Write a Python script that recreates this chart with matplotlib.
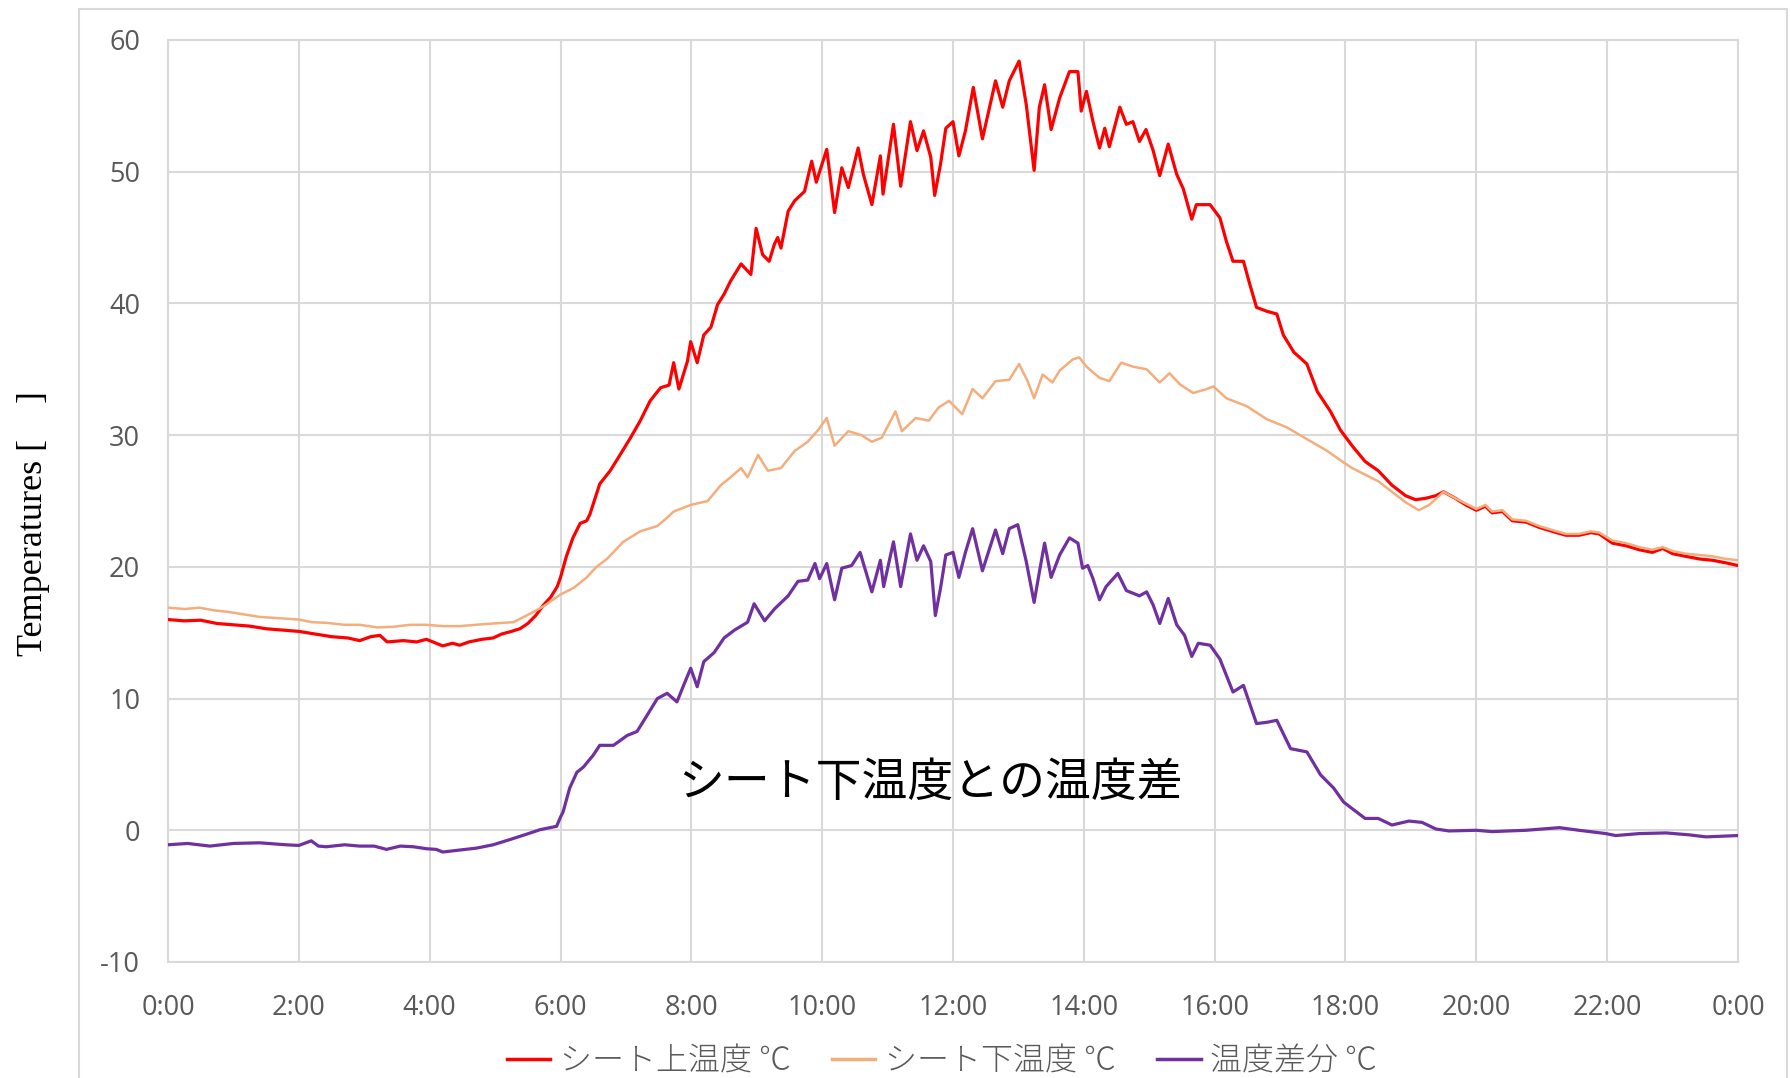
import matplotlib
matplotlib.use("Agg")
import matplotlib.pyplot as plt
from matplotlib.patches import Rectangle

plt.rcParams["axes.unicode_minus"] = False

# ---------------- data (hours, °C) ----------------
upper_time = [0.00, 0.25, 0.5, 0.75, 1.0, 1.25, 1.5, 1.75, 2.0, 2.25, 2.5, 2.75, 2.93, 3.1, 3.24, 3.35,
              3.6, 3.8, 3.95, 4.1, 4.2, 4.35, 4.46, 4.6, 4.8, 4.97, 5.1, 5.25, 5.38, 5.5, 5.62, 5.74,
              5.85, 5.95, 6.0, 6.09, 6.19, 6.3, 6.4, 6.45, 6.6, 6.76, 6.91, 7.07, 7.22, 7.37, 7.53,
              7.66, 7.73, 7.81, 7.94, 7.99, 8.09, 8.19, 8.3, 8.4, 8.5, 8.6, 8.76, 8.91, 8.99, 9.09,
              9.19, 9.27, 9.32, 9.37, 9.48, 9.58, 9.73, 9.84, 9.91, 10.07, 10.19, 10.3, 10.4, 10.55,
              10.63, 10.76, 10.89, 10.93, 11.09, 11.2, 11.35, 11.45, 11.55, 11.66, 11.72, 11.81,
              11.89, 12.0, 12.09, 12.19, 12.31, 12.45, 12.65, 12.76, 12.86, 13.01, 13.12, 13.24,
              13.32, 13.4, 13.5, 13.63, 13.78, 13.91, 13.96, 14.04, 14.14, 14.24, 14.32, 14.39,
              14.55, 14.65, 14.75, 14.85, 14.95, 15.06, 15.16, 15.29, 15.42, 15.52, 15.65, 15.72,
              15.93, 16.08, 16.18, 16.28, 16.44, 16.54, 16.64, 16.8, 16.95, 17.05, 17.21, 17.41,
              17.57, 17.77, 17.92, 18.1, 18.3, 18.5, 18.71, 18.92, 19.07, 19.22, 19.38, 19.5,
              19.68, 19.84, 20.0, 20.14, 20.24, 20.4, 20.55, 20.76, 20.96, 21.16, 21.37, 21.57,
              21.75, 21.88, 22.08, 22.29, 22.49, 22.69, 22.85, 23.0, 23.2, 23.41, 23.61, 23.82, 24.0]
upper_temp = [16.0, 15.9, 15.95, 15.7, 15.6, 15.5, 15.3, 15.2, 15.1, 14.9, 14.7, 14.6, 14.4, 14.7, 14.8, 14.3,
              14.4, 14.3, 14.5, 14.2, 14.0, 14.2, 14.05, 14.3, 14.5, 14.6, 14.9, 15.1, 15.3, 15.7, 16.3, 17.1,
              17.7, 18.5, 19.2, 20.8, 22.2, 23.3, 23.5, 24.0, 26.3, 27.3, 28.5, 29.8, 31.1, 32.6, 33.6,
              33.8, 35.5, 33.5, 35.6, 37.1, 35.5, 37.6, 38.2, 39.9, 40.7, 41.7, 43.0, 42.2, 45.7, 43.7,
              43.2, 44.5, 45.0, 44.2, 47.0, 47.8, 48.5, 50.8, 49.2, 51.7, 46.9, 50.3, 48.8, 51.8,
              49.8, 47.5, 51.2, 48.3, 53.6, 48.9, 53.8, 51.6, 53.1, 51.1, 48.2, 50.6,
              53.3, 53.8, 51.2, 53.1, 56.4, 52.5, 56.9, 54.9, 56.9, 58.4, 55.1, 50.1,
              54.9, 56.6, 53.2, 55.6, 57.6, 57.6, 54.6, 56.1, 53.8, 51.8, 53.3, 51.9,
              54.9, 53.6, 53.8, 52.3, 53.2, 51.6, 49.7, 52.1, 49.8, 48.7, 46.4, 47.5,
              47.5, 46.5, 44.7, 43.2, 43.2, 41.4, 39.7, 39.4, 39.2, 37.6, 36.3, 35.4,
              33.3, 31.8, 30.4, 29.2, 28.0, 27.3, 26.2, 25.4, 25.1, 25.2, 25.4, 25.7,
              25.2, 24.7, 24.3, 24.6, 24.1, 24.2, 23.5, 23.4, 23.0, 22.7, 22.4, 22.4,
              22.6, 22.5, 21.8, 21.6, 21.3, 21.1, 21.4, 21.0, 20.8, 20.6, 20.5, 20.3, 20.1]

lower_time = [0.0, 0.25, 0.48, 0.7, 0.89, 1.15, 1.4, 1.7, 2.0, 2.2, 2.42, 2.7, 2.93, 3.2, 3.44, 3.7,
              3.95, 4.2, 4.46, 4.7, 4.97, 5.28, 5.48, 5.74, 6.0, 6.2, 6.4, 6.55, 6.71, 6.96, 7.22,
              7.48, 7.6, 7.73, 7.99, 8.25, 8.45, 8.6, 8.76, 8.86, 9.02, 9.17, 9.37, 9.58, 9.78,
              9.94, 10.07, 10.19, 10.4, 10.6, 10.76, 10.91, 11.12, 11.22, 11.43, 11.63, 11.78,
              11.94, 12.14, 12.3, 12.45, 12.65, 12.86, 13.01, 13.14, 13.24, 13.37, 13.52, 13.63,
              13.83, 13.93, 14.04, 14.24, 14.39, 14.57, 14.75, 14.96, 15.16, 15.31, 15.47, 15.67,
              15.88, 15.98, 16.18, 16.49, 16.8, 17.1, 17.41, 17.72, 17.95, 18.1, 18.3, 18.5, 18.71,
              18.92, 19.12, 19.28, 19.5, 19.68, 19.84, 20.0, 20.14, 20.24, 20.4, 20.55, 20.76,
              20.96, 21.16, 21.37, 21.57, 21.75, 21.88, 22.08, 22.29, 22.49, 22.69, 22.85, 23.0,
              23.2, 23.41, 23.61, 23.82, 24.0]
lower_temp = [16.9, 16.8, 16.9, 16.7, 16.6, 16.4, 16.2, 16.1, 16.0, 15.8, 15.75, 15.6, 15.6, 15.4, 15.45, 15.6,
              15.6, 15.5, 15.5, 15.6, 15.7, 15.8, 16.3, 17.0, 17.9, 18.4, 19.2, 20.0, 20.6, 21.9, 22.7,
              23.1, 23.6, 24.2, 24.7, 25.0, 26.2, 26.8, 27.5, 26.8, 28.5, 27.3, 27.5, 28.8, 29.5,
              30.4, 31.3, 29.2, 30.3, 30.0, 29.5, 29.8, 31.8, 30.3, 31.3, 31.1, 32.1,
              32.6, 31.6, 33.5, 32.8, 34.1, 34.2, 35.4, 34.1, 32.8, 34.6, 34.0, 34.9,
              35.75, 35.9, 35.2, 34.35, 34.1, 35.5, 35.2, 35.0, 34.0, 34.7, 33.85, 33.2,
              33.5, 33.7, 32.8, 32.2, 31.2, 30.6, 29.7, 28.8, 28.0, 27.5, 27.0, 26.5, 25.7,
              24.9, 24.3, 24.7, 25.7, 25.2, 24.8, 24.4, 24.7, 24.2, 24.3, 23.6, 23.5,
              23.1, 22.8, 22.5, 22.5, 22.7, 22.6, 22.0, 21.8, 21.5, 21.3, 21.5, 21.2,
              21.0, 20.9, 20.8, 20.6, 20.5]

diff_time = [0.0, 0.3, 0.64, 1.0, 1.4, 1.8, 2.0, 2.19, 2.3, 2.42, 2.7, 2.93, 3.15, 3.34, 3.55, 3.75,
             3.95, 4.1, 4.2, 4.46, 4.72, 4.97, 5.23, 5.48, 5.69, 5.94, 6.0, 6.04, 6.14, 6.25, 6.35,
             6.5, 6.6, 6.81, 7.02, 7.17, 7.32, 7.48, 7.63, 7.78, 7.89, 7.99, 8.09, 8.19, 8.35, 8.5,
             8.66, 8.86, 8.96, 9.12, 9.27, 9.48, 9.63, 9.78, 9.89, 9.96, 10.07, 10.19, 10.3, 10.45,
             10.58, 10.76, 10.89, 10.94, 11.09, 11.2, 11.35, 11.45, 11.55, 11.66, 11.73, 11.81,
             11.89, 12.0, 12.09, 12.19, 12.3, 12.45, 12.65, 12.76, 12.86, 12.99, 13.12, 13.24,
             13.32, 13.4, 13.5, 13.63, 13.78, 13.91, 13.98, 14.06, 14.14, 14.24, 14.34, 14.52,
             14.65, 14.85, 14.96, 15.06, 15.16, 15.29, 15.42, 15.54, 15.65, 15.75, 15.93, 16.08,
             16.28, 16.44, 16.64, 16.8, 16.95, 17.16, 17.41, 17.62, 17.82, 17.97, 18.1, 18.3,
             18.5, 18.71, 18.97, 19.17, 19.38, 19.58, 20.0, 20.24, 20.76, 21.27, 21.57, 21.98,
             22.13, 22.49, 22.9, 23.26, 23.51, 24.0]
diff_temp = [-1.1, -1.0, -1.2, -1.0, -0.95, -1.1, -1.15, -0.8, -1.2, -1.25, -1.1, -1.2, -1.2, -1.45, -1.2, -1.25,
             -1.4, -1.45, -1.65, -1.5, -1.35, -1.1, -0.7, -0.3, 0.05, 0.3, 1.0, 1.4, 3.2, 4.4, 4.8,
             5.7, 6.45, 6.45, 7.2, 7.5, 8.7, 10.0, 10.4, 9.75, 11.1, 12.3, 10.9, 12.8, 13.5, 14.6,
             15.2, 15.8, 17.2, 15.9, 16.8, 17.8, 18.9, 19.0, 20.25, 19.1, 20.25, 17.5, 19.9, 20.1,
             21.1, 18.1, 20.5, 18.5, 21.9, 18.5, 22.5, 20.5, 21.6, 20.4, 16.3, 18.4,
             20.9, 21.1, 19.2, 21.1, 22.9, 19.7, 22.8, 21.0, 22.9, 23.2, 20.4, 17.3,
             19.6, 21.8, 19.2, 20.9, 22.2, 21.8, 19.9, 20.1, 19.1, 17.5, 18.5, 19.5,
             18.2, 17.8, 18.1, 17.1, 15.7, 17.6, 15.6, 14.8, 13.2, 14.2, 14.05, 13.0,
             10.5, 11.0, 8.1, 8.2, 8.35, 6.2, 5.95, 4.2, 3.2, 2.15, 1.65, 0.9,
             0.9, 0.4, 0.7, 0.6, 0.1, -0.05, 0.0, -0.1, 0.0, 0.2, 0.0, -0.25,
             -0.4, -0.25, -0.2, -0.35, -0.5, -0.4]

series_labels = ["シート上温度 ℃", "シート下温度 ℃", "温度差分 ℃"]
x_ticks = [0, 2, 4, 6, 8, 10, 12, 14, 16, 18, 20, 22, 24]
x_tick_labels = ["0:00", "2:00", "4:00", "6:00", "8:00", "10:00", "12:00", "14:00",
                 "16:00", "18:00", "20:00", "22:00", "0:00"]
y_ticks = [-10, 0, 10, 20, 30, 40, 50, 60]
y_label = "Temperatures [    ]"
annotation = "シート下温度との温度差"

# ---------------- figure ----------------
W, H = 1791, 1078
fig = plt.figure(figsize=(W / 100, H / 100), dpi=100)
fig.patch.set_facecolor("white")

# outer chart-area frame
fig.patches.append(Rectangle((79 / W, -0.02), (1787 - 79) / W, 1 - 9 / H + 0.02,
                             transform=fig.transFigure, fill=False,
                             edgecolor="#d9d9d9", linewidth=1.5, zorder=0))

ax = fig.add_axes([168 / W, 1 - 962 / H, (1738 - 168) / W, (962 - 40) / H])
ax.set_facecolor("white")

grid_c = "#d9d9d9"
ax.plot(upper_time, upper_temp, color="#ff0000", lw=2.3, label=series_labels[0], zorder=3)
ax.plot(lower_time, lower_temp, color="#f4ad7c", lw=1.8, label=series_labels[1], zorder=4)
ax.plot(diff_time, diff_temp, color="#7030a0", lw=2.3, label=series_labels[2], zorder=3)

ax.set_xlim(0, 24)
ax.set_ylim(-10, 60)
ax.set_xticks(x_ticks)
ax.set_xticklabels(x_tick_labels)
ax.set_yticks(y_ticks)
ax.grid(True, color=grid_c, lw=1.5, zorder=0)
ax.set_axisbelow(True)
for s in ax.spines.values():
    s.set_color(grid_c)
    s.set_linewidth(1.5)
ax.tick_params(axis="both", length=0, colors="#595959", labelsize=19.5)
ax.tick_params(axis="y", pad=20)
ax.tick_params(axis="x", pad=23)
for lab in ax.get_xticklabels() + ax.get_yticklabels():
    lab.set_fontfamily(["Open Sans", "DejaVu Sans"])

ax.text(11.66, 3.6, annotation, ha="center", va="center", fontsize=33, color="black",
        family=["Noto Sans CJK JP", "DejaVu Sans"], zorder=5)

fig.text(34 / W, 1 - 524 / H, y_label, rotation=90, ha="center", va="center",
         fontsize=26, color="black", family=["Liberation Serif", "DejaVu Serif"])

leg = fig.legend(loc="center", bbox_to_anchor=(942 / W, 1 - 1061 / H), ncol=3,
                 frameon=False, handlelength=1.35, handletextpad=0.3, columnspacing=1.3,
                 prop={"family": ["Noto Sans CJK JP", "DejaVu Sans"], "size": 23, "weight": "light"})
for t in leg.get_texts():
    t.set_color("#595959")
for l in leg.get_lines():
    l.set_linewidth(2.5)

fig.savefig("out.png", dpi=100)
